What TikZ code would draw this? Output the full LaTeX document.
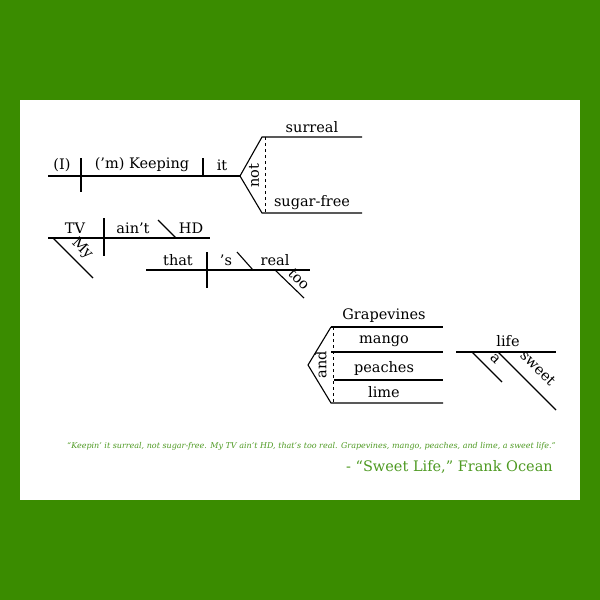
\documentclass[tikz,border=0pt]{standalone}
\usepackage{fontspec}
\setmainfont{DejaVu Serif}
\begin{document}
\begin{tikzpicture}[x=1pt,y=-1pt,
  ln/.style={line width=1.1pt,black},
  dl/.style={ln,dashed,line width=0.9pt},
  w/.style={inner sep=0pt,font=\fontsize{14.5}{14.5}\selectfont},
]
\definecolor{bg}{HTML}{3A8C00}\definecolor{tg}{HTML}{4E9A22}
\fill[bg] (0,0) rectangle (600,600);
\fill[white] (20,100) rectangle (580,500);
\useasboundingbox (0,0) rectangle (600,600);
% line 1
\coordinate (a1) at (48,176); \coordinate (f1) at (240,176);
\draw[ln] (a1) -- (f1);
\draw[ln] (81,158) -- (81,192); \draw[ln] (203,158) -- (203,176);
\node[w] (t1) at (62,165) {(I)};
\node[w] (t2) at (142,165) {(’m) Keeping};
\node[w] (t3) at (222,165) {it};
\coordinate (u1) at (262,137); \coordinate (d1) at (262,213);
\draw[ln] (362,137) -- (u1) -- (f1) -- (d1) -- (362,213);
\draw[dl] (265,137) -- (265,213);
\node[w,rotate=90] (n1) at (254,176) {not};
\node[w] (s1) at (312,127) {surreal};
\node[w] (s2) at (312,203) {sugar-free};
% line 2
\draw[ln] (48,238) -- (210,238);
\draw[ln] (104,218) -- (104,256);
\draw[ln] (158,220) -- (176,238);
\draw[ln] (53,238) -- (93,278);
\node[w] (tv) at (75,228) {TV};
\node[w] (ai) at (133,228) {ain’t};
\node[w] (hd) at (191,228) {HD};
\node[w,rotate=-45] (my) at (82,249) {My};
% line 3
\draw[ln] (146,270) -- (310,270);
\draw[ln] (207,252) -- (207,288);
\draw[ln] (237,252) -- (253,270);
\draw[ln] (275,270) -- (304,298);
\node[w] (th) at (178,260) {that};
\node[w] (ss) at (226,260) {’s};
\node[w] (re) at (275,260) {real};
\node[w,rotate=-45] (too) at (299,279) {too};
% compound
\draw[ln] (331,327) -- (443,327);
\draw[ln] (331,352) -- (443,352);
\draw[ln] (334,380) -- (443,380);
\draw[ln] (443,403) -- (331,403) -- (308,365) -- (331,327);
\draw[dl] (333,327) -- (333,403);
\node[w,rotate=90] (and) at (321,365) {and};
\node[w] (g) at (384,316) {Grapevines};
\node[w] (m) at (384,341) {mango};
\node[w] (p) at (384,368) {peaches};
\node[w] (l) at (384,392) {lime};
% life
\draw[ln] (456,352) -- (556,352);
\draw[ln] (472,352) -- (502,382);
\draw[ln] (498,352) -- (556,410);
\node[w] (li) at (508,341) {life};
\node[w,rotate=-45] (aa) at (495,359) {a};
\node[w,rotate=-45] (sw) at (538,368) {sweet};
% quote
\node[anchor=east,inner sep=0pt,text=tg,font=\fontsize{8.0}{9}\itshape] (q) at (556,446) {“Keepin’ it surreal, not sugar-free. My TV ain’t HD, that’s too real. Grapevines, mango, peaches, and lime, a sweet life.”};
\node[anchor=east,inner sep=0pt,text=tg,font=\fontsize{14.5}{15}\selectfont] (at) at (553,467) {- “Sweet Life,” Frank Ocean};
\end{tikzpicture}
\end{document}
